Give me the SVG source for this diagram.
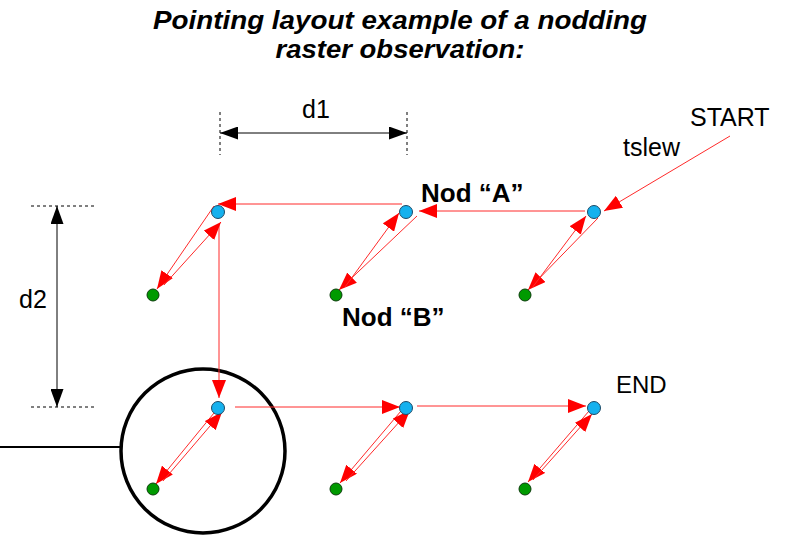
<svg xmlns="http://www.w3.org/2000/svg" width="787" height="541" viewBox="0 0 787 541">
<style>
text{font-family:"Liberation Sans",Arial,sans-serif;fill:#000}
.t{font-size:25px;font-weight:bold;font-style:italic}
.l{font-size:25px}
.b{font-size:26px;font-weight:bold}
.rr{stroke:#ff2a2a;stroke-width:1;fill:none;marker-end:url(#ra)}
.dim{stroke:#000;stroke-width:1;fill:none;marker-start:url(#ka);marker-end:url(#ka)}
.dash{stroke:#000;stroke-width:1;stroke-dasharray:3 3;fill:none}
.A{fill:#15b1ee;stroke:#1d4a66;stroke-width:1}
.B{fill:#009a00;stroke:#0b3d0b;stroke-width:1}
</style>
<defs>
<marker id="ra" viewBox="0 0 18 14" refX="18" refY="7" markerWidth="18" markerHeight="14" markerUnits="userSpaceOnUse" orient="auto">
<path d="M0,0 L18,7 L0,14 z" fill="#ff0000"/>
</marker>
<marker id="ka" viewBox="0 0 18 13" refX="18" refY="6.5" markerWidth="18" markerHeight="13" markerUnits="userSpaceOnUse" orient="auto-start-reverse">
<path d="M0,0 L18,6.5 L0,13 z" fill="#000"/>
</marker>
</defs>
<g id="title">
<text class="t" x="400" y="29" text-anchor="middle" textLength="494" lengthAdjust="spacingAndGlyphs">Pointing layout example of a nodding</text>
<text class="t" x="400" y="58" text-anchor="middle" textLength="249" lengthAdjust="spacingAndGlyphs">raster observation:</text>
</g>
<g id="dimensions">
<line class="dash" x1="220" y1="112" x2="220" y2="155"/>
<line class="dash" x1="407" y1="112" x2="407" y2="155"/>
<line class="dim" x1="220" y1="133" x2="407" y2="133"/>
<text class="l" x="302" y="118">d1</text>
<line class="dash" x1="31" y1="206" x2="97" y2="206"/>
<line class="dash" x1="31" y1="407" x2="97" y2="407"/>
<line class="dim" x1="57" y1="206" x2="57" y2="407"/>
<text class="l" x="19" y="308">d2</text>
</g>
<g id="zoom-circle">
<circle cx="203" cy="451" r="82" fill="none" stroke="#000" stroke-width="3.5"/>
<line x1="0" y1="447" x2="121" y2="447" stroke="#000" stroke-width="2"/>
</g>
<g id="connectors">
<line class="rr" x1="730" y1="136" x2="604" y2="211"/>
<line class="rr" x1="585" y1="211" x2="419" y2="211"/>
<line class="rr" x1="402" y1="204" x2="218" y2="204"/>
<line class="rr" x1="219" y1="224" x2="219" y2="398"/>
<line class="rr" x1="235" y1="407" x2="400" y2="407"/>
<line class="rr" x1="417" y1="406" x2="586" y2="406"/>
<line class="rr" x1="214" y1="206" x2="157" y2="289"/>
<line class="rr" x1="164" y1="285" x2="221" y2="222"/>
<line class="rr" x1="417" y1="216" x2="339" y2="290"/>
<line class="rr" x1="345" y1="287" x2="399" y2="213"/>
<line class="rr" x1="598" y1="218" x2="528" y2="290"/>
<line class="rr" x1="532" y1="288" x2="586" y2="216"/>
<line class="rr" x1="214" y1="413" x2="156" y2="484"/>
<line class="rr" x1="163" y1="481" x2="222" y2="412"/>
<line class="rr" x1="401" y1="411" x2="340" y2="483"/>
<line class="rr" x1="346" y1="481" x2="410" y2="410"/>
<line class="rr" x1="589" y1="411" x2="528" y2="482"/>
<line class="rr" x1="533" y1="480" x2="592" y2="414"/>
</g>
<g id="nodA1"><circle class="A" cx="218" cy="212" r="6.5"/></g>
<g id="nodA2"><circle class="A" cx="406" cy="212" r="6.5"/></g>
<g id="nodA3"><circle class="A" cx="594" cy="212" r="6.5"/></g>
<g id="nodA4"><circle class="A" cx="218" cy="408" r="6.5"/></g>
<g id="nodA5"><circle class="A" cx="406" cy="408" r="6.5"/></g>
<g id="nodA6"><circle class="A" cx="594" cy="408" r="6.5"/></g>
<g id="nodB1"><circle class="B" cx="153" cy="295" r="6"/></g>
<g id="nodB2"><circle class="B" cx="336" cy="295" r="6"/></g>
<g id="nodB3"><circle class="B" cx="525" cy="295" r="6"/></g>
<g id="nodB4"><circle class="B" cx="153" cy="489" r="6"/></g>
<g id="nodB5"><circle class="B" cx="336" cy="489" r="6"/></g>
<g id="nodB6"><circle class="B" cx="525" cy="489" r="6"/></g>
<g id="labels">
<text class="b" x="421" y="202">Nod “A”</text>
<text class="b" x="342" y="326">Nod “B”</text>
<text class="l" x="690" y="126">START</text>
<text class="l" x="623" y="156">tslew</text>
<text class="l" x="616" y="393" style="font-size:24px">END</text>
</g>
</svg>
